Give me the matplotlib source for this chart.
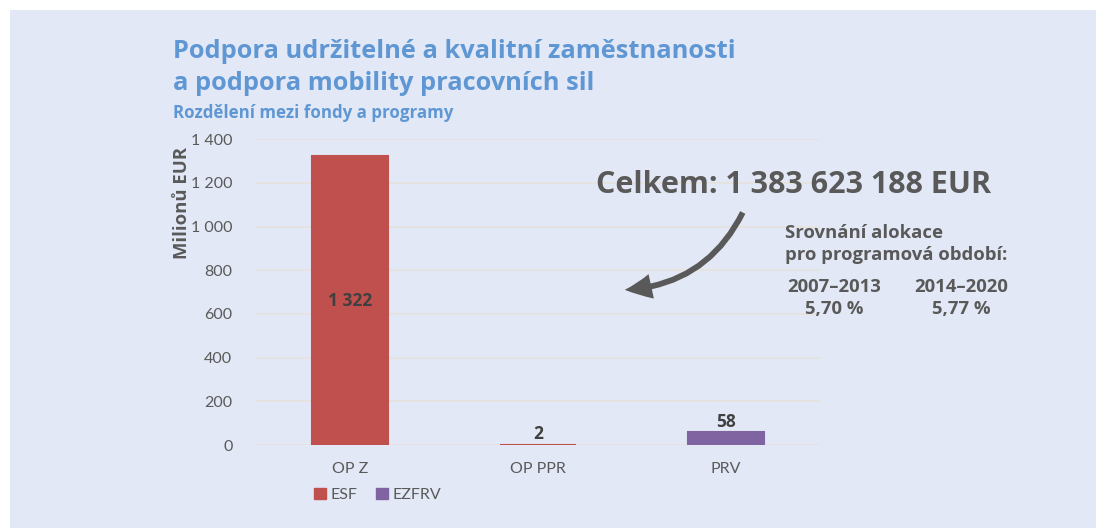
import matplotlib
matplotlib.use('Agg')
import matplotlib.pyplot as plt
from matplotlib.patches import Rectangle, Patch, FancyArrowPatch

# data
programs = ['OP Z', 'OP PPR', 'PRV']
values = [1322, 2, 58]
labels = ['1 322', '2', '58']
funds = ['ESF', 'ESF', 'EZFRV']
fund_colors = {'ESF': '#c0504d', 'EZFRV': '#8064a2'}
yticks = [0, 200, 400, 600, 800, 1000, 1200, 1400]
ytick_labels = ['0', '200', '400', '600', '800', '1 000', '1 200', '1 400']

bg = '#e2e8f5'
grey = '#595959'
blue = '#5f97d4'

plt.rcParams['font.family'] = ['Open Sans', 'DejaVu Sans']

fig = plt.figure(figsize=(10.96, 5.28), dpi=100)
fig.patch.set_facecolor('white')
fig.patches.append(Rectangle((10 / 1096, 0), 1 - 10 / 1096, 1 - 10 / 528,
                             transform=fig.transFigure, facecolor=bg,
                             edgecolor='none', zorder=-10))

ax = fig.add_axes([0.2336, 0.157, 0.5146, 0.5795])
ax.set_facecolor('none')
colors = [fund_colors[f] for f in funds]
ax.bar(programs, values, width=0.4, color=colors, edgecolor=colors,
       linewidth=1.5, zorder=3)
ax.set_xlim(-0.5, 2.5)
ax.set_ylim(0, 1400)
ax.set_yticks(yticks)
ax.set_yticklabels(ytick_labels)
ax.grid(axis='y', color='#e6e1dc', linewidth=1.2, zorder=0)
for s in ax.spines.values():
    s.set_visible(False)
ax.tick_params(length=0, labelcolor=grey)
ax.tick_params(axis='y', pad=17)
ax.tick_params(axis='x', pad=12)
for lab in ax.get_xticklabels() + ax.get_yticklabels():
    lab.set_fontfamily('Lato')
    lab.set_fontsize(11.5)

# value labels
for i, (v, t) in enumerate(zip(values, labels)):
    if v > 500:
        ax.text(i, v / 2, t, ha='center', va='center', fontsize=12.5,
                fontweight='bold', color='#404040', zorder=4)
    else:
        ax.text(i, v + 8, t, ha='center', va='bottom', fontsize=12.5,
                fontweight='bold', color='#404040', zorder=4)

# legend
handles = [Patch(color=fund_colors[k], label=k) for k in fund_colors]
leg = fig.legend(handles=handles, loc='center left',
                 bbox_to_anchor=(300 / 1096, 1 - 495 / 528), ncol=2,
                 frameon=False, handlelength=0.7, handleheight=0.7,
                 handletextpad=0.3, columnspacing=1.2,
                 prop={'family': 'Lato', 'size': 11.5})
for t in leg.get_texts():
    t.set_color(grey)

# y label
fig.text(182 / 1096, 1 - 203 / 528, 'Milionů EUR', rotation=90, ha='center',
         va='center', fontsize=13.3, fontweight='bold', color=grey)

# titles
fig.text(173 / 1096, 1 - 52 / 528, 'Podpora udržitelné a kvalitní zaměstnanosti',
         fontsize=18.3, fontweight='bold', color=blue, va='center')
fig.text(173 / 1096, 1 - 84 / 528, 'a podpora mobility pracovních sil',
         fontsize=18.3, fontweight='bold', color=blue, va='center')
fig.text(173 / 1096, 1 - 113 / 528, 'Rozdělení mezi fondy a programy',
         fontsize=12.2, fontweight='bold', color=blue, va='center')

# total
fig.text(596 / 1096, 1 - 185 / 528, 'Celkem: 1 383 623 188 EUR',
         fontsize=22, fontweight='bold', color=grey, va='center')
fig.text(785 / 1096, 1 - 233 / 528, 'Srovnání alokace', fontsize=13.3,
         fontweight='bold', color=grey, va='center')
fig.text(785 / 1096, 1 - 255 / 528, 'pro programová období:', fontsize=13.3,
         fontweight='bold', color=grey, va='center')
fig.text(834 / 1096, 1 - 287 / 528, '2007–2013', fontsize=13.3,
         fontweight='bold', color=grey, va='center', ha='center')
fig.text(834 / 1096, 1 - 309 / 528, '5,70 %', fontsize=13.3,
         fontweight='bold', color=grey, va='center', ha='center')
fig.text(961 / 1096, 1 - 287 / 528, '2014–2020', fontsize=13.3,
         fontweight='bold', color=grey, va='center', ha='center')
fig.text(961 / 1096, 1 - 309 / 528, '5,77 %', fontsize=13.3,
         fontweight='bold', color=grey, va='center', ha='center')

# arrow
fig.add_artist(FancyArrowPatch(
    (744 / 1096, 1 - 210 / 528), (622 / 1096, 1 - 290 / 528),
    transform=fig.transFigure, connectionstyle='arc3,rad=-0.3',
    arrowstyle='simple,head_length=1.6,head_width=1.5,tail_width=0.35',
    mutation_scale=12, color=grey, linewidth=0))

fig.savefig('out.png', dpi=100, facecolor=fig.get_facecolor())
